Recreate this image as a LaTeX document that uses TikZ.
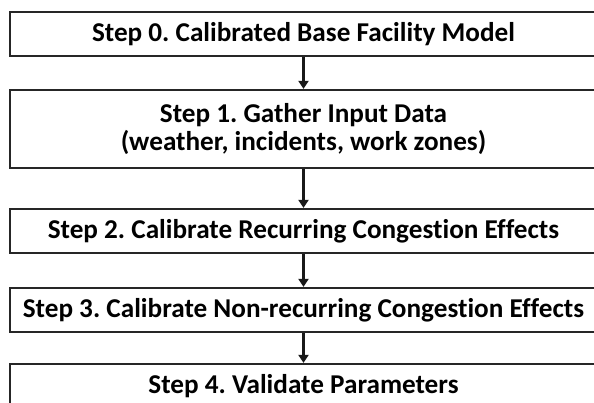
\documentclass[tikz,border=0pt]{standalone}
\usepackage{fontspec}
\setmainfont{Carlito}[Ligatures={NoCommon}]
\usetikzlibrary{arrows.meta}
\frenchspacing
\begin{document}
\begin{tikzpicture}[x=1pt,y=-1pt,
  stepbox/.style={draw=black!85, line width=2.2pt, minimum width=587pt,
    inner sep=0pt, align=center, font=\fontsize{27.2}{28}\selectfont\bfseries},
  flow/.style={draw=black!90, line width=2.2pt,
    -{Triangle[width=10pt,length=8pt]}}]
\useasboundingbox (0,0) rectangle (594,402);
\clip (0,0) rectangle (594,402);
\node[stepbox, minimum height=44pt] (s0) at (303.5,34) {Step 0. Calibrated Base Facility Model};
\node[stepbox, minimum height=78pt] (s1) at (303.5,129) {Step 1. Gather Input Data\\(weather, incidents, work zones)};
\node[stepbox, minimum height=44pt] (s2) at (303.5,231) {Step 2. Calibrate Recurring Congestion Effects};
\node[stepbox, minimum height=44pt] (s3) at (303.5,310) {Step 3. Calibrate Non-recurring Congestion Effects};
\node[stepbox, minimum height=44pt] (s4) at (303.5,386) {Step 4. Validate Parameters};
\draw[flow] (s0.south) -- (s1.north);
\draw[flow] (s1.south) -- (s2.north);
\draw[flow] (s2.south) -- (s3.north);
\draw[flow] (s3.south) -- (s4.north);
\end{tikzpicture}
\end{document}
